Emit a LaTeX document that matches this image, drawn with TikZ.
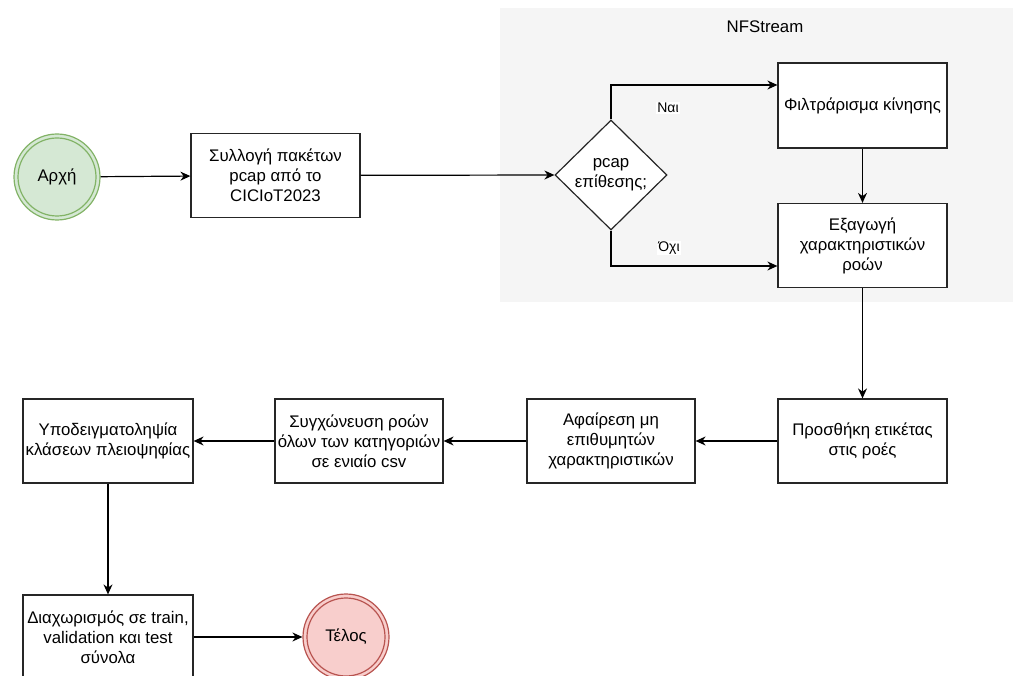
\documentclass[tikz,border=0pt]{standalone}
\usepackage{fontspec}
\setmainfont{Liberation Sans}
\usetikzlibrary{shapes.geometric,arrows.meta}
\definecolor{startfill}{HTML}{D5E8D4}
\definecolor{startline}{HTML}{82B366}
\definecolor{endfill}{HTML}{F8CECC}
\definecolor{endline}{HTML}{B85450}
\definecolor{groupfill}{HTML}{F5F5F5}
\begin{document}
\begin{tikzpicture}[x=1pt,y=-1pt,
  font=\fontsize{16.8}{20}\selectfont,
  stepbox/.style={draw=black!85,line width=1.2pt,fill=white,minimum width=169pt,minimum height=84pt,inner sep=0pt,align=center},
  decision/.style={draw=black!85,line width=1.2pt,fill=white,diamond,minimum width=112pt,minimum height=110pt,inner sep=0pt},
  flow/.style={line width=1.2pt,-{Stealth[length=10pt,width=9pt]}},
  branch/.style={fill=white,inner sep=1pt,font=\fontsize{14}{16}\selectfont}]
\useasboundingbox (0,0) rectangle (1018,676);
% NFStream group
\fill[groupfill] (500,8) rectangle (1013,302);
\node (grp) at (765,27) {NFStream};
% start / end
\node[circle,draw=startline,fill=startfill,line width=1.2pt,minimum size=86pt,inner sep=0pt] (start) at (57,177) {};
\draw[startline,line width=1.2pt] (start.center) circle (39);
\node at (start) {Αρχή};
\node[stepbox] (collect) at (275.5,175.5) {Συλλογή πακέτων\\pcap από το\\CICIoT2023};
\node[decision] (dec) at (611,175) {};
\node[align=center] at (dec) {pcap\\επίθεσης;};
\node[stepbox,minimum height=85pt] (filter) at (862.5,105.5) {Φιλτράρισμα κίνησης};
\node[stepbox] (extract) at (862.5,245.5) {Εξαγωγή\\χαρακτηριστικών\\ροών};
\node[stepbox] (label) at (862.5,441) {Προσθήκη ετικέτας\\στις ροές};
\node[stepbox,minimum width=168pt] (remove) at (611,441) {Αφαίρεση μη\\επιθυμητών\\χαρακτηριστικών};
\node[stepbox,minimum width=168pt] (merge) at (359,441) {Συγχώνευση ροών\\όλων των κατηγοριών\\σε ενιαίο csv};
\node[stepbox,minimum width=170pt] (sub) at (108,441) {Υποδειγματοληψία\\κλάσεων πλειοψηφίας};
\node[stepbox,minimum width=170pt] (split) at (108,637) {Διαχωρισμός σε train,\\validation και test\\σύνολα};
\node[circle,draw=endline,fill=endfill,line width=1.2pt,minimum size=86pt,inner sep=0pt] (end) at (346,637) {};
\draw[endline,line width=1.2pt] (end.center) circle (39);
\node at (end) {Τέλος};
% connectors
\draw[flow] (start) -- (collect);
\draw[flow] (collect) -- (dec.west);
\draw[flow] (dec.north) |- (filter.west |- 0,85);
\draw[flow] (dec.south) |- (extract.west |- 0,266);
\node[branch] (yes) at (668,108) {Ναι};
\node[branch] (no) at (669,248) {Όχι};
\draw[flow] (filter) -- (extract);
\draw[flow] (extract) -- (label);
\draw[flow] (label) -- (remove);
\draw[flow] (remove) -- (merge);
\draw[flow] (merge) -- (sub);
\draw[flow] (sub) -- (split);
\draw[flow] (split) -- (end);
\end{tikzpicture}
\end{document}
